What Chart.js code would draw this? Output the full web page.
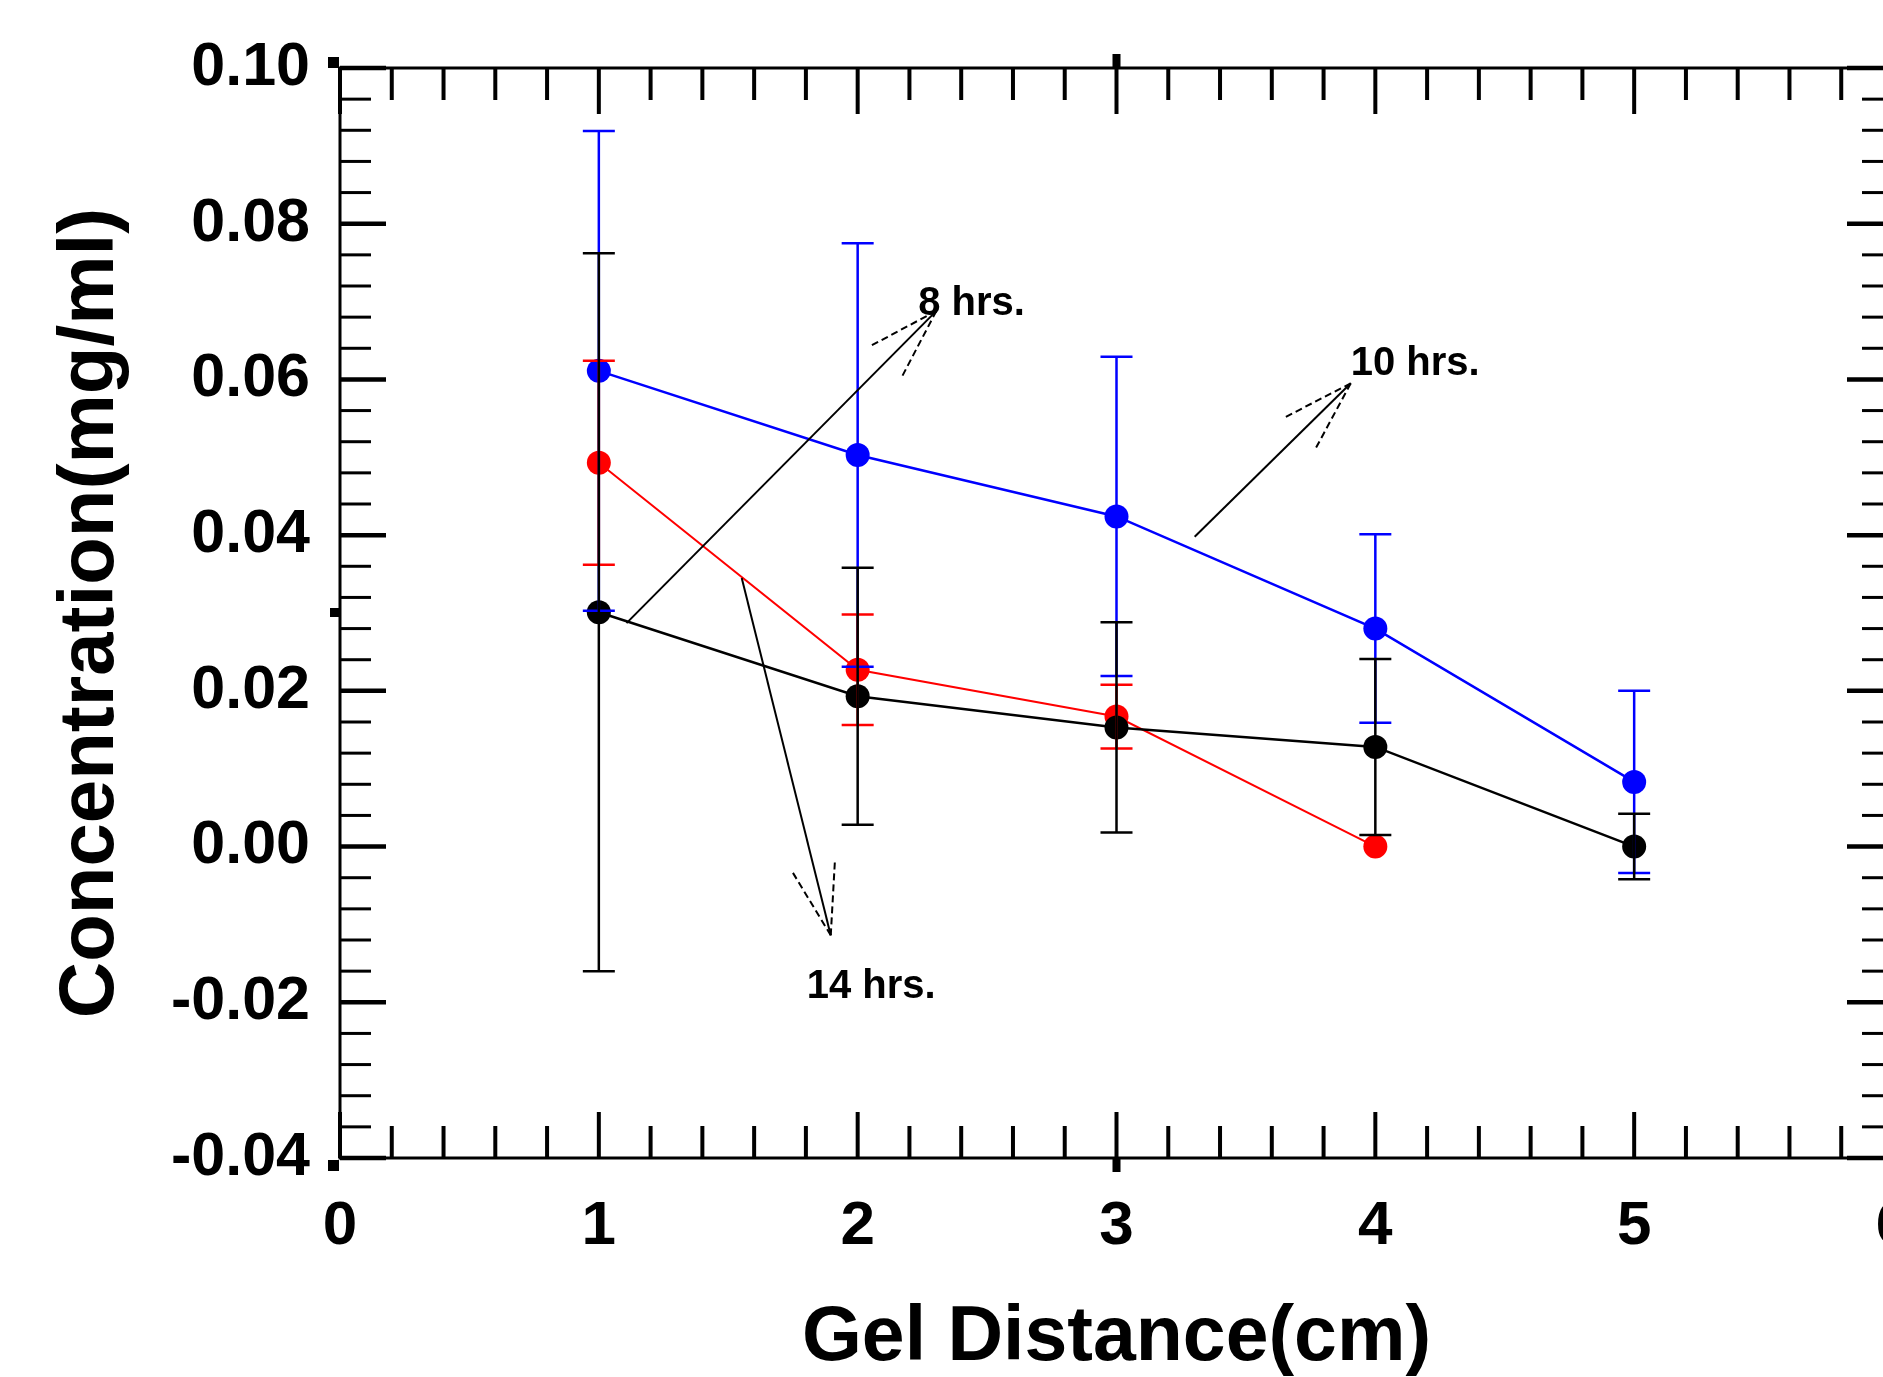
<!DOCTYPE html>
<html><head><meta charset="utf-8">
<script src="https://cdn.jsdelivr.net/npm/chart.js@4.4.1/dist/chart.umd.min.js"></script>
<style>html,body{margin:0;padding:0;background:#fff;overflow:hidden;width:1883px;height:1377px}canvas{display:block}</style>
</head><body><canvas id="c" width="1960" height="1377" style="width:1960px;height:1377px"></canvas>
<script>
// ---- data ----
const distances = [1, 2, 3, 4, 5];
const conc8h  = [0.0301, 0.0193, 0.0153, 0.0128, 0.0000];
const err8h   = [0.0461, 0.0165, 0.0135, 0.0113, 0.0042];
const conc10h = [0.0611, 0.0503, 0.0424, 0.0280, 0.0083];
const err10h  = [0.0308, 0.0272, 0.0205, 0.0121, 0.0117];
const conc14h = [0.0493, 0.0227, 0.0167, 0.0000];
const err14h  = [0.0131, 0.0071, 0.0041, 0.0000];
const xTicks = [0, 1, 2, 3, 4, 5, 6];
const yTicks = [-0.04, -0.02, 0.00, 0.02, 0.04, 0.06, 0.08, 0.10];
const noteText = ['8 hrs.', '10 hrs.', '14 hrs.'];
const notePos  = [[2.234, 0.0697], [3.905, 0.0620], [1.803, -0.0180]];
const arrowFrom = [[1.107, 0.0287], [3.302, 0.0398], [1.552, 0.0345]];
const arrowTo   = [[2.304, 0.0688], [3.905, 0.0595], [1.896, -0.0114]];

const FAM = '"Liberation Sans", Arial, Helvetica, sans-serif';

const errorBars = {
  id: 'errorBars',
  afterDatasetsDraw(chart) {
    const {ctx, scales: {x, y}} = chart;
    const sets = [[conc10h, err10h, '#0000ff'], [conc14h, err14h, '#ff0000'], [conc8h, err8h, '#000000']];
    ctx.save();
    sets.forEach(([vals, errs, col]) => {
      ctx.strokeStyle = col; ctx.lineWidth = 2.5;
      vals.forEach((v, i) => {
        const e = errs[i]; if (!e) return;
        const px = x.getPixelForValue(distances[i]);
        const y1 = y.getPixelForValue(v + e), y2 = y.getPixelForValue(v - e);
        ctx.beginPath();
        ctx.moveTo(px, y1); ctx.lineTo(px, y2);
        ctx.moveTo(px - 16, y1); ctx.lineTo(px + 16, y1);
        ctx.moveTo(px - 16, y2); ctx.lineTo(px + 16, y2);
        ctx.stroke();
      });
    });
    ctx.restore();
  }
};

const frame = {
  id: 'frame',
  afterDraw(chart) {
    const {ctx, chartArea: a, scales: {x, y}} = chart;
    ctx.save();
    ctx.strokeStyle = '#000'; ctx.fillStyle = '#000';
    const line = (x1, y1, x2, y2, w) => { ctx.lineWidth = w; ctx.beginPath(); ctx.moveTo(x1, y1); ctx.lineTo(x2, y2); ctx.stroke(); };
    for (let k = 0; k <= 30; k++) {
      const v = k * 0.2; const major = k % 5 === 0;
      const px = x.getPixelForValue(v);
      const L = major ? 46 : 32;
      line(px, a.bottom, px, a.bottom - L, 4);
      line(px, a.top, px, a.top + L, 4);
    }
    for (let k = 0; k <= 35; k++) {
      const v = -0.04 + k * 0.004; const major = k % 5 === 0;
      const py = y.getPixelForValue(v);
      const L = major ? 46 : 31;
      line(a.left, py, a.left + L, py, major ? 4.5 : 3);
      line(a.right, py, a.right - L, py, major ? 4.5 : 3);
    }
    ctx.lineWidth = 3;
    ctx.strokeRect(a.left, a.top, a.right - a.left, a.bottom - a.top);
    const yt = y.getPixelForValue(0.10), ym = y.getPixelForValue(0.03), yb = y.getPixelForValue(-0.04);
    ctx.fillRect(a.left - 12, yt - 11, 11, 11);
    ctx.fillRect(a.left - 10, ym - 5, 9, 9);
    ctx.fillRect(a.left - 12, yb + 2, 11, 11);
    const xm = x.getPixelForValue(3);
    ctx.fillRect(xm - 4, a.bottom, 8, 14);
    ctx.fillRect(xm - 4, a.top - 14, 8, 14);
    ctx.font = 'bold 40px ' + FAM;
    ctx.textBaseline = 'middle'; ctx.textAlign = 'left';
    noteText.forEach((t, i) => {
      ctx.fillText(t, x.getPixelForValue(notePos[i][0]), y.getPixelForValue(notePos[i][1]));
      const x1 = x.getPixelForValue(arrowFrom[i][0]), y1 = y.getPixelForValue(arrowFrom[i][1]);
      const x2 = x.getPixelForValue(arrowTo[i][0]), y2 = y.getPixelForValue(arrowTo[i][1]);
      ctx.setLineDash([]);
      line(x1, y1, x2, y2, 2);
      const ang = Math.atan2(y1 - y2, x1 - x2);
      ctx.setLineDash([7, 4]);
      [-0.3, 0.3].forEach(d => {
        line(x2, y2, x2 + 75 * Math.cos(ang + d), y2 + 75 * Math.sin(ang + d), 2);
      });
      ctx.setLineDash([]);
    });
    ctx.restore();
  }
};

const pts = (xs, ys) => ys.map((v, i) => ({x: xs[i], y: v}));

new Chart(document.getElementById('c'), {
  type: 'line',
  data: {
    datasets: [
      {label: '8 hrs.', data: pts(distances, conc8h), borderColor: '#000000', backgroundColor: '#000000', borderWidth: 2.5, pointRadius: 12, pointBorderWidth: 0, tension: 0},
      {label: '14 hrs.', data: pts(distances, conc14h), borderColor: '#ff0000', backgroundColor: '#ff0000', borderWidth: 2, pointRadius: 12, pointBorderWidth: 0, tension: 0},
      {label: '10 hrs.', data: pts(distances, conc10h), borderColor: '#0000ff', backgroundColor: '#0000ff', borderWidth: 2.5, pointRadius: 12, pointBorderWidth: 0, tension: 0}
    ]
  },
  options: {
    responsive: false, animation: false, devicePixelRatio: 1,
    layout: {padding: {top: 68, right: 67, left: 0, bottom: 0}},
    plugins: {legend: {display: false}, tooltip: {enabled: false}},
    scales: {
      x: {
        type: 'linear', min: 0, max: 6,
        afterBuildTicks(s) { s.ticks = xTicks.map(v => ({value: v})); },
        afterFit(s) { s.height = 219; },
        grid: {display: false, drawTicks: false}, border: {display: false},
        ticks: {color: '#000', font: {family: FAM, size: 62, weight: 'bold'}, padding: 32, maxRotation: 0, autoSkip: false, callback: v => String(v)},
        title: {display: true, text: 'Gel Distance(cm)', color: '#000', font: {family: FAM, size: 77, weight: 'bold', lineHeight: 1}, padding: {top: 0, bottom: 0}}
      },
      y: {
        type: 'linear', min: -0.04, max: 0.10,
        afterBuildTicks(s) { s.ticks = yTicks.map(v => ({value: v})); },
        afterFit(s) { s.width = 340; },
        grid: {display: false, drawTicks: false}, border: {display: false},
        ticks: {color: '#000', font: {family: FAM, size: 61, weight: 'bold'}, padding: 30, autoSkip: false, callback: v => v.toFixed(2)},
        title: {display: true, text: 'Concentration(mg/ml)', color: '#000', font: {family: FAM, size: 78, weight: 'bold', lineHeight: 1}, padding: {top: 52, bottom: 0}}
      }
    }
  },
  plugins: [errorBars, frame]
});
</script></body></html>
